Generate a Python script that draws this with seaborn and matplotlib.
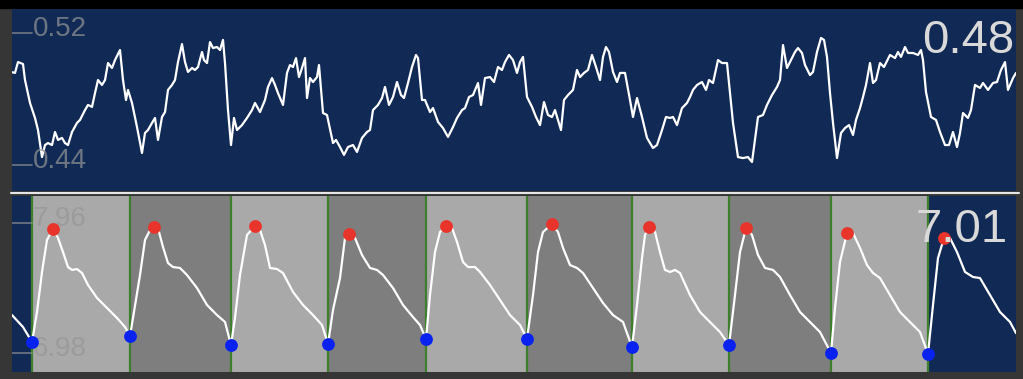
import numpy as np
import pandas as pd
import seaborn as sns
import matplotlib.pyplot as plt
from matplotlib.patches import Rectangle
from matplotlib.lines import Line2D

# top trace (time in s, value)
top_t = [0.00, 0.04, 0.07, 0.12, 0.14, 0.19, 0.24, 0.27, 0.31, 0.34, 0.37, 0.41, 0.44, 0.47, 0.51,
         0.54, 0.57, 0.61, 0.66, 0.69, 0.74, 0.77, 0.81, 0.84, 0.87, 0.91, 0.94, 0.97, 1.01, 1.04,
         1.09, 1.12, 1.15, 1.17, 1.21, 1.26, 1.31, 1.34, 1.37, 1.41, 1.44, 1.47, 1.51, 1.54, 1.57,
         1.61, 1.64, 1.67, 1.71, 1.74, 1.77, 1.81, 1.84, 1.87, 1.91, 1.93, 1.96, 1.99, 2.02, 2.06,
         2.09, 2.12, 2.14, 2.17, 2.20, 2.23, 2.26, 2.31, 2.36, 2.41, 2.44, 2.49, 2.54, 2.57, 2.61,
         2.64, 2.67, 2.72, 2.76, 2.79, 2.82, 2.85, 2.88, 2.91, 2.94, 2.96, 2.99, 3.02, 3.06, 3.08,
         3.12, 3.16, 3.22, 3.25, 3.29, 3.33, 3.37, 3.42, 3.46, 3.51, 3.56, 3.59, 3.62, 3.67, 3.71,
         3.74, 3.78, 3.82, 3.86, 3.90, 3.93, 3.97, 4.01, 4.05, 4.07, 4.11, 4.14, 4.19, 4.22, 4.27,
         4.32, 4.37, 4.42, 4.46, 4.51, 4.54, 4.58, 4.62, 4.67, 4.70, 4.74, 4.79, 4.83, 4.87, 4.91,
         4.94, 4.98, 5.02, 5.06, 5.09, 5.12, 5.16, 5.21, 5.25, 5.29, 5.33, 5.37, 5.41, 5.44, 5.47,
         5.50, 5.53, 5.57, 5.62, 5.66, 5.69, 5.73, 5.77, 5.81, 5.85, 5.89, 5.92, 5.95, 5.98, 6.02,
         6.06, 6.09, 6.14, 6.19, 6.22, 6.26, 6.31, 6.36, 6.39, 6.42, 6.46, 6.51, 6.55, 6.59, 6.62,
         6.66, 6.71, 6.76, 6.79, 6.82, 6.86, 6.91, 6.95, 6.98, 7.02, 7.07, 7.11, 7.16, 7.19, 7.22,
         7.27, 7.32, 7.37, 7.41, 7.44, 7.47, 7.52, 7.56, 7.61, 7.66, 7.69, 7.72, 7.76, 7.79, 7.84,
         7.87, 7.91, 7.94, 7.99, 8.02, 8.06, 8.10, 8.13, 8.16, 8.19, 8.22, 8.26, 8.30, 8.34, 8.38,
         8.42, 8.45, 8.49, 8.52, 8.55, 8.59, 8.62, 8.65, 8.69, 8.73, 8.75, 8.79, 8.84, 8.87, 8.90,
         8.94, 8.97, 9.02, 9.07, 9.10, 9.12, 9.15, 9.20, 9.25, 9.29, 9.34, 9.38, 9.42, 9.46, 9.49,
         9.52, 9.57, 9.60, 9.64, 9.69, 9.72, 9.77, 9.82, 9.86, 9.90, 9.94, 9.97, 10.02, 10.05]
top_v = [.4964, .4958, .5024, .5012, .4915, .4776, .4685, .4612, .4448, .4521, .4533, .4521, .4600, .4552, .4564,
         .4533, .4521, .4600, .4655, .4673, .4733, .4764, .4752, .4836, .4915, .4885, .4915, .5018, .4988, .5036,
         .5097, .4915, .4794, .4855, .4776, .4630, .4473, .4594, .4612, .4655, .4685, .4552, .4691, .4721, .4855,
         .4885, .4915, .5024, .5133, .5024, .4964, .4988, .4976, .4994, .5085, .5036, .5018, .5145, .5109, .5115,
         .5097, .5158, .5018, .4733, .4521, .4685, .4612, .4642, .4685, .4733, .4776, .4721, .4794, .4873, .4927,
         .4885, .4836, .4764, .4958, .5006, .4994, .5048, .4933, .4988, .5048, .4806, .4927, .4903, .4933, .5006,
         .4715, .4703, .4533, .4552, .4509, .4461, .4509, .4521, .4479, .4564, .4600, .4612, .4733, .4764, .4806,
         .4873, .4764, .4812, .4903, .4824, .4806, .4897, .4994, .5067, .5048, .4794, .4794, .4721, .4745, .4661,
         .4624, .4570, .4630, .4685, .4733, .4745, .4812, .4824, .4897, .4764, .4927, .4933, .4903, .4994, .4976,
         .5024, .5067, .5036, .4958, .5024, .5055, .4812, .4752, .4691, .4642, .4782, .4703, .4691, .4733, .4673,
         .4612, .4794, .4824, .4855, .4976, .4933, .4958, .4976, .5067, .4994, .4915, .5055, .5115, .5085, .4964,
         .4903, .4958, .4958, .4794, .4691, .4806, .4691, .4564, .4533, .4503, .4521, .4612, .4691, .4685, .4691,
         .4642, .4745, .4776, .4812, .4855, .4885, .4903, .4855, .4915, .4897, .5036, .5018, .5018, .4836, .4655,
         .4448, .4442, .4448, .4418, .4552, .4691, .4703, .4764, .4824, .4873, .4915, .5127, .4988, .5024, .5085,
         .5109, .5079, .5006, .4945, .4964, .5085, .5170, .5158, .5055, .4836, .4655, .4442, .4594, .4624, .4642,
         .4582, .4673, .4745, .4812, .4885, .5018, .4897, .4915, .5018, .4994, .5018, .5067, .5048, .5085, .5055,
         .5115, .5079, .5079, .5067, .5097, .5036, .4842, .4691, .4673, .4600, .4521, .4521, .4600, .4509, .4594,
         .4715, .4685, .4733, .4885, .4867, .4897, .4855, .4897, .4903, .4976, .5024, .4855, .4927, .4958]

# bottom waveform
wave_t = [0.01, 0.12, 0.21, 0.26, 0.31, 0.36, 0.42, 0.47, 0.52, 0.57, 0.61, 0.66, 0.71, 0.77, 0.86,
          0.96, 1.06, 1.14, 1.19, 1.22, 1.29, 1.34, 1.38, 1.43, 1.48, 1.52, 1.57, 1.62, 1.69, 1.76,
          1.86, 1.96, 2.06, 2.14, 2.20, 2.24, 2.29, 2.36, 2.44, 2.49, 2.54, 2.59, 2.66, 2.72, 2.82,
          2.92, 3.02, 3.11, 3.17, 3.22, 3.29, 3.34, 3.38, 3.44, 3.51, 3.59, 3.66, 3.72, 3.82, 3.92,
          4.02, 4.09, 4.15, 4.19, 4.24, 4.29, 4.35, 4.41, 4.46, 4.52, 4.57, 4.64, 4.69, 4.79, 4.89,
          4.99, 5.09, 5.16, 5.22, 5.27, 5.32, 5.41, 5.47, 5.52, 5.59, 5.66, 5.72, 5.82, 5.92, 6.02,
          6.12, 6.21, 6.26, 6.31, 6.34, 6.38, 6.44, 6.49, 6.54, 6.59, 6.64, 6.69, 6.79, 6.89, 6.99,
          7.09, 7.18, 7.24, 7.29, 7.35, 7.41, 7.47, 7.54, 7.62, 7.69, 7.79, 7.89, 7.99, 8.09, 8.20,
          8.24, 8.29, 8.36, 8.42, 8.49, 8.56, 8.62, 8.69, 8.79, 8.89, 8.99, 9.09, 9.17, 9.22, 9.27,
          9.33, 9.39, 9.46, 9.54, 9.62, 9.69, 9.79, 9.89, 9.99, 10.05]
wave_v = [7.266, 7.176, 7.063, 7.289, 7.591, 7.832, 7.915, 7.847, 7.741, 7.628, 7.606, 7.613, 7.583, 7.493, 7.395,
          7.319, 7.244, 7.176, 7.108, 7.244, 7.568, 7.832, 7.892, 7.930, 7.892, 7.779, 7.658, 7.628, 7.621, 7.568,
          7.470, 7.342, 7.266, 7.214, 7.040, 7.244, 7.568, 7.870, 7.937, 7.907, 7.794, 7.621, 7.613, 7.583, 7.440,
          7.342, 7.266, 7.191, 7.048, 7.304, 7.545, 7.847, 7.877, 7.847, 7.719, 7.621, 7.606, 7.568, 7.470, 7.342,
          7.251, 7.191, 7.086, 7.417, 7.741, 7.892, 7.937, 7.922, 7.817, 7.666, 7.628, 7.628, 7.591, 7.493, 7.380,
          7.266, 7.191, 7.086, 7.417, 7.741, 7.892, 7.952, 7.892, 7.772, 7.643, 7.621, 7.583, 7.470, 7.357, 7.266,
          7.214, 7.025, 7.342, 7.696, 7.870, 7.930, 7.892, 7.741, 7.606, 7.591, 7.606, 7.583, 7.417, 7.289, 7.214,
          7.138, 7.040, 7.417, 7.741, 7.922, 7.870, 7.719, 7.621, 7.606, 7.553, 7.417, 7.289, 7.214, 7.138, 6.980,
          7.319, 7.666, 7.885, 7.885, 7.772, 7.643, 7.583, 7.545, 7.417, 7.289, 7.214, 7.138, 6.973, 7.342, 7.696,
          7.847, 7.847, 7.741, 7.591, 7.553, 7.545, 7.417, 7.289, 7.214, 7.130]

peak_t = [0.42, 1.43, 2.44, 3.38, 4.35, 5.41, 6.38, 7.35, 8.36, 9.33]
peak_v = [7.915, 7.930, 7.937, 7.877, 7.937, 7.952, 7.930, 7.922, 7.885, 7.847]
trough_t = [0.21, 1.19, 2.20, 3.17, 4.15, 5.16, 6.21, 7.18, 8.20, 9.17]
trough_v = [7.063, 7.108, 7.040, 7.048, 7.086, 7.086, 7.025, 7.040, 6.980, 6.973]

top_ticks = [0.52, 0.44]
bottom_ticks = [7.96, 6.98]
top_current = "0.48"
bottom_current = "7.01"

NAVY = "#112a55"
sns.set_style("dark")
plt.rcParams["font.family"] = ["Liberation Sans", "DejaVu Sans"]

fig = plt.figure(figsize=(10.23, 3.79), dpi=100, facecolor="#363636")
fig.add_artist(Rectangle((0, 371 / 379), 1, 8 / 379, transform=fig.transFigure,
                         color="black", zorder=0))

L, W = 12 / 1023, 1004 / 1023
ax1 = fig.add_axes([L, 188 / 379, W, 182 / 379])
ax2 = fig.add_axes([L, 7 / 379, W, 176 / 379])

top_df = pd.DataFrame({"t": top_t, "v": top_v})
wave_df = pd.DataFrame({"t": wave_t, "v": wave_v})
peaks = pd.DataFrame({"t": peak_t, "v": peak_v})
troughs = pd.DataFrame({"t": trough_t, "v": trough_v})

for ax in (ax1, ax2):
    ax.set_facecolor(NAVY)
    for s in ax.spines.values():
        s.set_visible(False)
    ax.set_xticks([])
    ax.set_yticks([])
    ax.set_xlim(0.01, 10.05)

# top panel
sns.lineplot(data=top_df, x="t", y="v", ax=ax1, color="white", lw=1.6,
             sort=False, estimator=None)
ax1.set_ylim(0.42424, 0.53455)

# bottom panel: beat bands
for i in range(len(trough_t) - 1):
    ax2.axvspan(trough_t[i], trough_t[i + 1],
                color="#a9a9a9" if i % 2 == 0 else "#7e7e7e", lw=0, zorder=0)
for t in trough_t:
    ax2.axvline(t, color="#3d7f2c", lw=1.6, zorder=1)
sns.lineplot(data=wave_df, x="t", y="v", ax=ax2, color="white", lw=1.6,
             sort=False, estimator=None, zorder=3)
sns.scatterplot(data=peaks, x="t", y="v", ax=ax2, color="#e8342a", s=85,
                linewidth=0, zorder=4)
sns.scatterplot(data=troughs, x="t", y="v", ax=ax2, color="#0a22f0", s=85,
                linewidth=0, zorder=4)
ax2.set_ylim(6.8368, 8.1635)

for ax in (ax1, ax2):
    ax.set_xlabel("")
    ax.set_ylabel("")

# scale labels
for ax, ticks in ((ax1, top_ticks), (ax2, bottom_ticks)):
    ytr = ax.get_yaxis_transform()
    for v in ticks:
        ax.plot([0, 0.02], [v, v], transform=ytr, color="#969696", alpha=0.7,
                lw=1.2, zorder=2)
        ax.annotate(f"{v:.2f}", xy=(0, v), xycoords=ytr, xytext=(21, -3),
                    textcoords="offset pixels", ha="left", va="baseline",
                    fontsize=20, color="#969696", alpha=0.7, zorder=2)

ax1.annotate(top_current, xy=(1, 1), xycoords="axes fraction", xytext=(-2, -44),
             textcoords="offset pixels", ha="right", va="baseline",
             fontsize=34, color="#d9d9d9", zorder=5)
ax2.annotate(bottom_current, xy=(1, 1), xycoords="axes fraction", xytext=(-8, -46),
             textcoords="offset pixels", ha="right", va="baseline",
             fontsize=34, color="#d9d9d9", zorder=5)

# separator between panels
fig.add_artist(Line2D([11 / 1023, 1019 / 1023], [186.5 / 379, 186.5 / 379],
                      transform=fig.transFigure, color="#e6e6e6", lw=1.5))

fig.savefig("out.png", dpi=100, facecolor=fig.get_facecolor())
